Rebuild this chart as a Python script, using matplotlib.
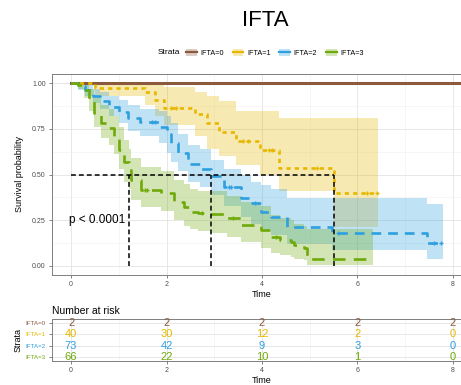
import numpy as np
import matplotlib
matplotlib.use('Agg')
import matplotlib.pyplot as plt
from matplotlib.patches import Patch
from matplotlib.lines import Line2D

plt.rcParams['font.family'] = ['Liberation Sans', 'DejaVu Sans']
plt.rcParams['lines.scale_dashes'] = False

# strata and colours
strata = ['IFTA=0', 'IFTA=1', 'IFTA=2', 'IFTA=3']
colors = ['#8B5A3C', '#E7B800', '#2E9FDF', '#6FAA0A']
dashes = [None, (3, 3), (7, 5), (9, 6)]

# Kaplan-Meier estimates (time, survival, CI upper, CI lower)
t0 = [0.0]
s0 = [1.0]
u0 = [1.0]
l0 = [1.0]
end0 = 8.4

t1 = [0.0, 0.5, 1.55, 1.75, 1.95, 2.6, 2.85, 3.1, 3.45, 3.95, 4.35, 5.5]
s1 = [1.0, 0.975, 0.95, 0.91, 0.865, 0.83, 0.78, 0.73, 0.685, 0.635, 0.535, 0.40]
u1 = [1.0, 1.0, 1.0, 0.99, 0.98, 0.95, 0.93, 0.90, 0.845, 0.845, 0.81, 0.81]
l1 = [1.0, 0.93, 0.88, 0.82, 0.77, 0.71, 0.64, 0.60, 0.55, 0.50, 0.41, 0.21]
end1 = 6.43

t2 = [0.0, 0.15, 0.3, 0.45, 0.6, 0.8, 1.0, 1.2, 1.45, 1.85, 2.0, 2.1, 2.25, 2.45,
      2.7, 2.93, 3.2, 3.55, 3.76, 3.97, 4.18, 4.52, 5.46, 7.45]
s2 = [1.0, 0.986, 0.96, 0.93, 0.90, 0.87, 0.84, 0.81, 0.79, 0.76, 0.72, 0.67, 0.62, 0.56,
      0.53, 0.49, 0.43, 0.37, 0.343, 0.296, 0.27, 0.214, 0.178, 0.123]
u2 = [1.0, 1.0, 0.99, 0.97, 0.95, 0.93, 0.91, 0.88, 0.86, 0.85, 0.82, 0.78, 0.72, 0.66,
      0.64, 0.58, 0.53, 0.50, 0.46, 0.44, 0.42, 0.37, 0.37, 0.34]
l2 = [1.0, 0.96, 0.93, 0.89, 0.86, 0.82, 0.78, 0.74, 0.71, 0.67, 0.62, 0.57, 0.52, 0.46,
      0.43, 0.39, 0.33, 0.27, 0.23, 0.19, 0.17, 0.12, 0.085, 0.04]
end2 = 7.8

t3 = [0.0, 0.15, 0.28, 0.38, 0.48, 0.63, 0.8, 0.9, 1.0, 1.11, 1.22, 1.25, 1.46, 1.88,
      2.15, 2.36, 2.5, 2.65, 2.92, 3.27, 3.55, 3.97, 4.18, 4.38, 4.6, 4.66, 4.87, 4.94]
s3 = [1.0, 0.99, 0.963, 0.908, 0.836, 0.78, 0.755, 0.705, 0.634, 0.568, 0.525, 0.47, 0.415, 0.40,
      0.35, 0.323, 0.296, 0.29, 0.283, 0.26, 0.223, 0.195, 0.16, 0.14, 0.13, 0.113, 0.097, 0.035]
u3 = [1.0, 1.0, 0.99, 0.97, 0.92, 0.88, 0.86, 0.82, 0.76, 0.69, 0.64, 0.59, 0.54, 0.52,
      0.47, 0.45, 0.42, 0.41, 0.41, 0.38, 0.35, 0.33, 0.28, 0.26, 0.25, 0.23, 0.22, 0.20]
l3 = [1.0, 0.97, 0.92, 0.85, 0.76, 0.70, 0.66, 0.61, 0.53, 0.46, 0.42, 0.36, 0.32, 0.30,
      0.25, 0.22, 0.20, 0.19, 0.18, 0.16, 0.13, 0.10, 0.07, 0.06, 0.05, 0.04, 0.03, 0.005]
end3 = 6.33

# censoring times
cens1 = [2.1, 2.2, 3.6, 3.7, 4.15, 4.2, 5.15, 6.2, 6.4]
cens2 = [1.7, 1.75, 3.3, 3.35, 3.85, 5.6, 7.6, 7.75]
cens3 = [1.55, 1.6, 2.75, 3.4, 4.3]
cens0 = []

# medians
medians = [1.22, 2.93, 5.5]

# number at risk
risk_times = [0, 2, 4, 6, 8]
risk0 = [2, 2, 2, 2, 2]
risk1 = [40, 30, 12, 2, 0]
risk2 = [73, 42, 9, 3, 0]
risk3 = [66, 22, 10, 1, 0]

groups = [(t0, s0, u0, l0, end0, cens0), (t1, s1, u1, l1, end1, cens1),
          (t2, s2, u2, l2, end2, cens2), (t3, s3, u3, l3, end3, cens3)]
risks = [risk0, risk1, risk2, risk3]

W, H = 461, 385
fig = plt.figure(figsize=(W / 100, H / 100), dpi=100)

ax = fig.add_axes([52 / W, 1 - 275 / H, 420 / W, 201 / H])
ax_r = fig.add_axes([52 / W, 1 - 360.7 / H, 420 / W, 41.4 / H])


def style_axes(a):
    a.set_facecolor('white')
    for sp in a.spines.values():
        sp.set_color('#7F7F7F')
        sp.set_linewidth(0.7)
    a.tick_params(colors='#4D4D4D', labelsize=5, length=2.5, width=0.5, pad=2)
    a.tick_params(axis='both', labelcolor='#4D4D4D')


style_axes(ax)
ax.set_xlim(-0.4, 8.4)
ax.set_ylim(-0.05, 1.05)
ax.set_xticks([0, 2, 4, 6, 8])
ax.set_xticks([1, 3, 5, 7], minor=True)
ax.set_yticks([0, 0.25, 0.5, 0.75, 1.0])
ax.set_yticklabels(['0.00', '0.25', '0.50', '0.75', '1.00'])
ax.set_yticks([0.125, 0.375, 0.625, 0.875], minor=True)
ax.tick_params(which='minor', length=0)
ax.grid(True, which='major', color='#E3E3E3', linewidth=0.6)
ax.grid(True, which='minor', color='#F0F0F0', linewidth=0.4)
ax.set_axisbelow(True)

for (t, s, u, l, end, cens), c, d in zip(groups, colors, dashes):
    tt = np.array(t + [end])
    ss = np.array(s + [s[-1]])
    uu = np.array(u + [u[-1]])
    ll = np.array(l + [l[-1]])
    ax.fill_between(tt, ll, uu, step='post', color=c, alpha=0.3, linewidth=0)
    line, = ax.step(tt, ss, where='post', color=c, linewidth=1.9 if d else 2.2)
    if d:
        line.set_dashes(d)
    if cens:
        idx = np.searchsorted(tt, cens, side='right') - 1
        ax.plot(cens, ss[idx], linestyle='none', marker='+', color=c,
                markersize=3.5, markeredgewidth=1.0)

# median lines
ax.plot([0, max(medians)], [0.5, 0.5], color='black', linewidth=1.1, dashes=(3.5, 2.2))
for m in medians:
    ax.plot([m, m], [0, 0.5], color='black', linewidth=1.1, dashes=(3.5, 2.2))

ax.text(-0.04, 0.25, 'p < 0.0001', fontsize=8.5, va='center', ha='left', color='black')
ax.set_xlabel('Time', fontsize=6.5, labelpad=1.5)
ax.set_ylabel('Survival probability', fontsize=6.5, labelpad=6)

# legend
fig.text(158 / W, 1 - 53 / H, 'Strata', fontsize=6, va='center', ha='left')
handles = [(Patch(facecolor=c, alpha=0.3, edgecolor='none'),
            Line2D([], [], color=c, linewidth=1.6)) for c in colors]
fig.legend(handles, strata, loc='center left', bbox_to_anchor=(186 / W, 1 - 53 / H),
           ncol=4, frameon=False, fontsize=5.2, handlelength=1.5, handleheight=1.2,
           columnspacing=1.2, handletextpad=0.5, borderpad=0, borderaxespad=0)

fig.suptitle('IFTA', x=265 / W, y=1 - 20 / H, va='center', fontsize=16)

# risk table
style_axes(ax_r)
ax_r.set_xlim(-0.4, 8.4)
ax_r.set_ylim(3.36, -0.36)
ax_r.set_xticks(risk_times)
ax_r.set_xticks([1, 3, 5, 7], minor=True)
ax_r.set_yticks(range(4))
ax_r.set_yticklabels(strata)
ax_r.tick_params(axis='y', labelsize=4.5)
ax_r.tick_params(which='minor', length=0)
for lab, c in zip(ax_r.get_yticklabels(), colors):
    lab.set_color(c)
ax_r.grid(True, which='major', color='#E3E3E3', linewidth=0.6)
ax_r.grid(True, which='minor', axis='x', color='#F0F0F0', linewidth=0.4)
ax_r.set_axisbelow(True)
for i, (r, c) in enumerate(zip(risks, colors)):
    for tx, n in zip(risk_times, r):
        ax_r.text(tx, i, str(n), color=c, fontsize=8, ha='center', va='center')
ax_r.set_xlabel('Time', fontsize=6.5, labelpad=1.5)
ax_r.set_ylabel('Strata', fontsize=6.5, labelpad=2)
ax_r.set_title('Number at risk', fontsize=7.5, loc='left', pad=4)

fig.savefig('out.png', dpi=100)
